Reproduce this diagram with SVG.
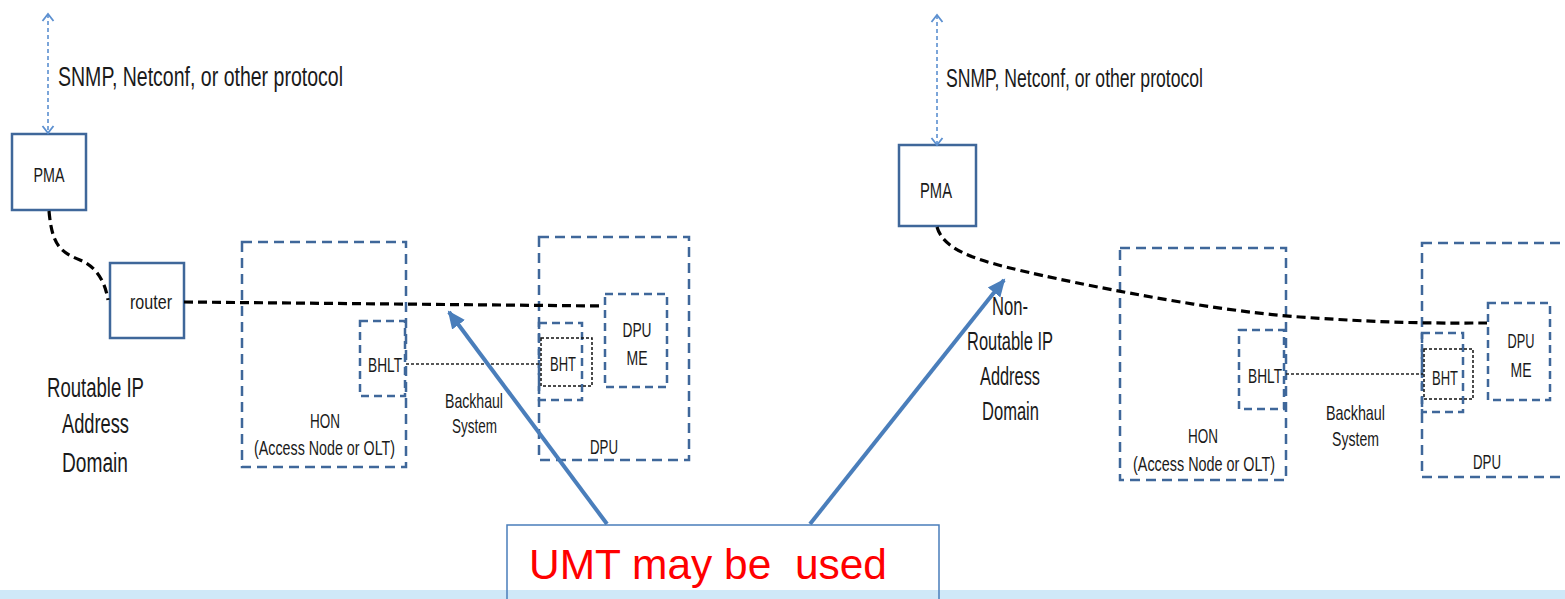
<svg xmlns="http://www.w3.org/2000/svg" width="1565" height="599" viewBox="0 0 1565 599">
<style>
.box{fill:#fff;stroke:#3f679a;stroke-width:2.5}
.dbox{fill:none;stroke:#3f679a;stroke-width:2.5;stroke-dasharray:10 6}
.sbox{fill:none;stroke:#3f679a;stroke-width:2.5;stroke-dasharray:8 5}
.kbox{fill:none;stroke:#111;stroke-width:1.5;stroke-dasharray:3 2}
.conn{fill:none;stroke:#000;stroke-width:3.2;stroke-dasharray:9 5}
.dot{fill:none;stroke:#222;stroke-width:1.5;stroke-dasharray:3 2}
.proto{fill:none;stroke:#5b8fd0;stroke-width:1.6;stroke-dasharray:4 3;marker-start:url(#chev);marker-end:url(#chev)}
.big{fill:none;stroke:#4a7ebb;stroke-width:4;marker-end:url(#tri)}
.t{font-family:"Liberation Sans",Arial,sans-serif;fill:#1a1a1a;text-anchor:middle}
.s{font-family:"Liberation Sans",Arial,sans-serif;fill:#1a1a1a}
</style>
<defs>
<marker id="chev" markerUnits="userSpaceOnUse" markerWidth="14" markerHeight="14" viewBox="0 0 14 14" refX="9" refY="7" orient="auto-start-reverse">
<path d="M2,1.5 L9,7 L2,12.5" fill="none" stroke="#5b8fd0" stroke-width="1.8"/>
</marker>
<marker id="tri" markerUnits="userSpaceOnUse" markerWidth="20" markerHeight="20" viewBox="0 0 20 20" refX="16" refY="10" orient="auto">
<path d="M0,2 L18,10 L0,18 z" fill="#4a7ebb"/>
</marker>
</defs>
<rect x="0" y="0" width="1565" height="599" fill="#fff"/>

<g id="left-proto">
<text class="s" x="58" y="86" font-size="27" textLength="285" lengthAdjust="spacingAndGlyphs">SNMP, Netconf, or other protocol</text>
</g>
<g id="pma-left">
<rect class="box" x="12" y="134" width="74" height="76"/>
<text class="t" x="49" y="182" font-size="21" textLength="31" lengthAdjust="spacingAndGlyphs">PMA</text>
</g>
<g id="router">
<rect class="box" x="110" y="263" width="74" height="75"/>
<text class="t" x="151" y="309" font-size="21" textLength="42" lengthAdjust="spacingAndGlyphs">router</text>
</g>
<g id="domain-left">
<text class="t" x="95.5" y="397" font-size="27" textLength="97" lengthAdjust="spacingAndGlyphs">Routable IP</text>
<text class="t" x="95.5" y="433" font-size="27" textLength="67" lengthAdjust="spacingAndGlyphs">Address</text>
<text class="t" x="95" y="472" font-size="27" textLength="66" lengthAdjust="spacingAndGlyphs">Domain</text>
</g>
<g id="hon-left">
<rect class="dbox" x="242" y="242" width="164" height="225"/>
<text class="t" x="325" y="428" font-size="21" textLength="30" lengthAdjust="spacingAndGlyphs">HON</text>
<text class="t" x="324.5" y="455" font-size="21" textLength="141" lengthAdjust="spacingAndGlyphs">(Access Node or OLT)</text>
</g>
<g id="bhlt-left">
<rect class="sbox" x="360" y="321" width="45" height="75"/>
<text class="t" x="385" y="372" font-size="21" textLength="34" lengthAdjust="spacingAndGlyphs">BHLT</text>
</g>
<g id="backhaul-left">
<text class="t" x="474" y="408" font-size="21" textLength="58" lengthAdjust="spacingAndGlyphs">Backhaul</text>
<text class="t" x="474.5" y="433" font-size="21" textLength="45" lengthAdjust="spacingAndGlyphs">System</text>
</g>
<g id="dpu-left">
<rect class="dbox" x="539" y="237" width="150" height="223"/>
<text class="t" x="604" y="454" font-size="21" textLength="28" lengthAdjust="spacingAndGlyphs">DPU</text>
</g>
<g id="dpume-left">
<rect class="sbox" x="605" y="294" width="62" height="93"/>
<text class="t" x="637" y="337" font-size="21" textLength="29" lengthAdjust="spacingAndGlyphs">DPU</text>
<text class="t" x="637" y="365" font-size="21" textLength="21" lengthAdjust="spacingAndGlyphs">ME</text>
</g>
<g id="bht-left">
<rect class="sbox" x="539" y="323" width="43" height="77"/>
<rect class="kbox" x="541" y="338" width="51" height="48"/>
<text class="t" x="563" y="371" font-size="21" textLength="26" lengthAdjust="spacingAndGlyphs">BHT</text>
</g>

<g id="right-proto">
<text class="s" x="946" y="87" font-size="25" textLength="257" lengthAdjust="spacingAndGlyphs">SNMP, Netconf, or other protocol</text>
</g>
<g id="pma-right">
<rect class="box" x="899" y="145" width="77" height="81"/>
<text class="t" x="936" y="198" font-size="22" textLength="32" lengthAdjust="spacingAndGlyphs">PMA</text>
</g>
<g id="domain-right">
<text class="t" x="1010" y="315" font-size="25" textLength="36" lengthAdjust="spacingAndGlyphs">Non-</text>
<text class="t" x="1010" y="350" font-size="25" textLength="86" lengthAdjust="spacingAndGlyphs">Routable IP</text>
<text class="t" x="1010" y="385" font-size="25" textLength="60" lengthAdjust="spacingAndGlyphs">Address</text>
<text class="t" x="1010.5" y="420" font-size="25" textLength="57" lengthAdjust="spacingAndGlyphs">Domain</text>
</g>
<g id="hon-right">
<rect class="dbox" x="1120" y="248" width="166" height="232"/>
<text class="t" x="1203" y="443" font-size="21" textLength="30" lengthAdjust="spacingAndGlyphs">HON</text>
<text class="t" x="1204" y="471" font-size="21" textLength="142" lengthAdjust="spacingAndGlyphs">(Access Node or OLT)</text>
</g>
<g id="bhlt-right">
<rect class="sbox" x="1239" y="330" width="45" height="79"/>
<text class="t" x="1265" y="383" font-size="21" textLength="34" lengthAdjust="spacingAndGlyphs">BHLT</text>
</g>
<g id="backhaul-right">
<text class="t" x="1355.5" y="420" font-size="21" textLength="59" lengthAdjust="spacingAndGlyphs">Backhaul</text>
<text class="t" x="1355.5" y="446" font-size="21" textLength="47" lengthAdjust="spacingAndGlyphs">System</text>
</g>
<g id="dpu-right">
<rect class="dbox" x="1422" y="243" width="160" height="234"/>
<text class="t" x="1487" y="469" font-size="21" textLength="28" lengthAdjust="spacingAndGlyphs">DPU</text>
</g>
<g id="dpume-right">
<rect class="sbox" x="1488" y="303" width="62" height="97"/>
<text class="t" x="1521" y="348" font-size="21" textLength="27" lengthAdjust="spacingAndGlyphs">DPU</text>
<text class="t" x="1521" y="377" font-size="21" textLength="21" lengthAdjust="spacingAndGlyphs">ME</text>
</g>
<g id="bht-right">
<rect class="sbox" x="1422" y="333" width="41" height="79"/>
<rect class="kbox" x="1424" y="349" width="49" height="50"/>
<text class="t" x="1445" y="385" font-size="21" textLength="26" lengthAdjust="spacingAndGlyphs">BHT</text>
</g>

<g id="connectors">
<line class="proto" x1="48" y1="14" x2="48" y2="133"/>
<line class="proto" x1="937" y1="15" x2="937" y2="145"/>
<path class="conn" d="M49,211 C52,245 60,252 80,260 C95,266 105,280 108,300"/>
<path class="conn" d="M184,302 L604,306"/>
<path class="dot" d="M406,364 L540,364"/>
<path class="conn" d="M937,227 C943,248 970,258 1010,268 S1200,310 1300,317 S1440,323 1487,323"/>
<path class="dot" d="M1286,374 L1423,374"/>
<path class="big" d="M607,524 L449,312"/>
<path class="big" d="M810,524 L1004,280"/>
</g>

<g id="umt">
<rect x="507" y="525" width="432" height="66" fill="#fff"/>
<rect x="0" y="590" width="1565" height="9" fill="#cfe8f8"/>
<path d="M507,600 L507,525 L939,525 L939,600" fill="none" stroke="#4a7ebb" stroke-width="1.5"/>
<text x="529" y="579" font-family="Liberation Sans, Arial, sans-serif" font-size="42" fill="#ff0000" textLength="358" lengthAdjust="spacingAndGlyphs" xml:space="preserve">UMT may be  used</text>
</g>
</svg>
